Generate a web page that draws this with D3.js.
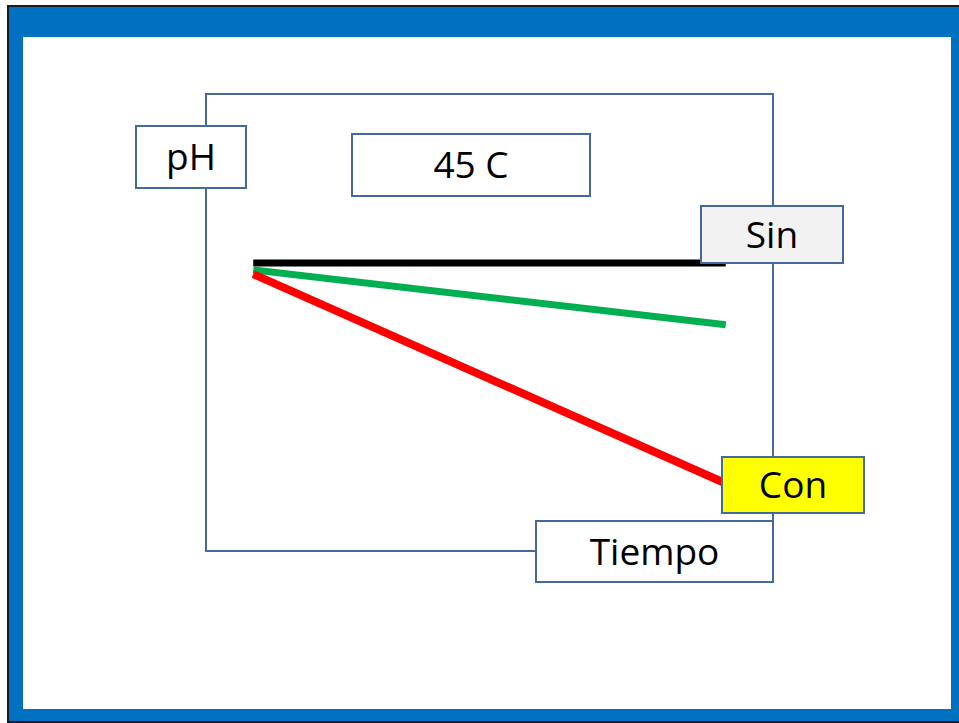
<!DOCTYPE html>
<html>
<head>
<meta charset="utf-8">
<script src="https://cdn.jsdelivr.net/npm/d3@7"></script>
<style>
  html, body { margin: 0; padding: 0; background: #fff; }
  svg { display: block; font-family: 'Open Sans', sans-serif; }
</style>
</head>
<body>
<script>
// time points and pH values
const tiempo = [1, 11];
const tiempoCon = [1, 10.93];
const phSin = [6.3, 6.3];
const phVerde = [6.15, 4.95];
const phCon = [6.06, 1.51];

const W = 959, H = 723;

const svg = d3.select('body').append('svg')
    .attr('width', W)
    .attr('height', H);

// slide frame
svg.append('rect').attr('x', 7).attr('y', 5).attr('width', W - 7).attr('height', H - 5).attr('fill', '#1b1b1b');
svg.append('rect').attr('x', 9).attr('y', 7).attr('width', W - 9).attr('height', 714).attr('fill', '#0070c0');
svg.append('rect').attr('x', 23).attr('y', 37).attr('width', 928).attr('height', 672).attr('fill', '#fff');

const frame = { left: 206, top: 94, right: 773, bottom: 551 };
const boxStroke = '#44699b';

const x = d3.scaleLinear().domain([0, 12]).range([frame.left, frame.right]);
const y = d3.scaleLinear().domain([0, 10]).range([frame.bottom, frame.top]);

// plot area
svg.append('rect')
    .attr('x', frame.left).attr('y', frame.top)
    .attr('width', frame.right - frame.left)
    .attr('height', frame.bottom - frame.top)
    .attr('fill', 'none')
    .attr('stroke', boxStroke)
    .attr('stroke-width', 2);

const line = d3.line().x(d => x(d[0])).y(d => y(d[1]));

const series = [
    { t: tiempo, v: phSin, color: '#000000', w: 7 },
    { t: tiempo, v: phVerde, color: '#00b050', w: 7 },
    { t: tiempoCon, v: phCon, color: '#ff0000', w: 8 }
];

svg.append('g')
    .selectAll('path')
    .data(series)
    .enter()
    .append('path')
    .attr('d', d => line(d.t.map((t, i) => [t, d.v[i]])))
    .attr('fill', 'none')
    .attr('stroke', d => d.color)
    .attr('stroke-width', d => d.w);

// text boxes
const boxes = [
    { text: 'pH', x: 136, y: 126, w: 110, h: 62, fill: '#fff' },
    { text: '45 C', x: 352, y: 134, w: 238, h: 62, fill: '#fff' },
    { text: 'Sin', x: 701, y: 206, w: 142, h: 57, fill: '#f2f2f2' },
    { text: 'Con', x: 722, y: 457, w: 142, h: 56, fill: '#ffff00' },
    { text: 'Tiempo', x: 536, y: 521, w: 237, h: 61, fill: '#fff' }
];

const b = svg.append('g')
    .selectAll('g')
    .data(boxes)
    .enter()
    .append('g');

b.append('rect')
    .attr('x', d => d.x).attr('y', d => d.y)
    .attr('width', d => d.w).attr('height', d => d.h)
    .attr('fill', d => d.fill)
    .attr('stroke', boxStroke)
    .attr('stroke-width', 2);

b.append('text')
    .attr('x', d => d.x + d.w / 2)
    .attr('y', d => d.y + d.h / 2 + 13)
    .attr('text-anchor', 'middle')
    .attr('font-size', 37)
    .attr('fill', '#000')
    .text(d => d.text);
</script>
</body>
</html>
